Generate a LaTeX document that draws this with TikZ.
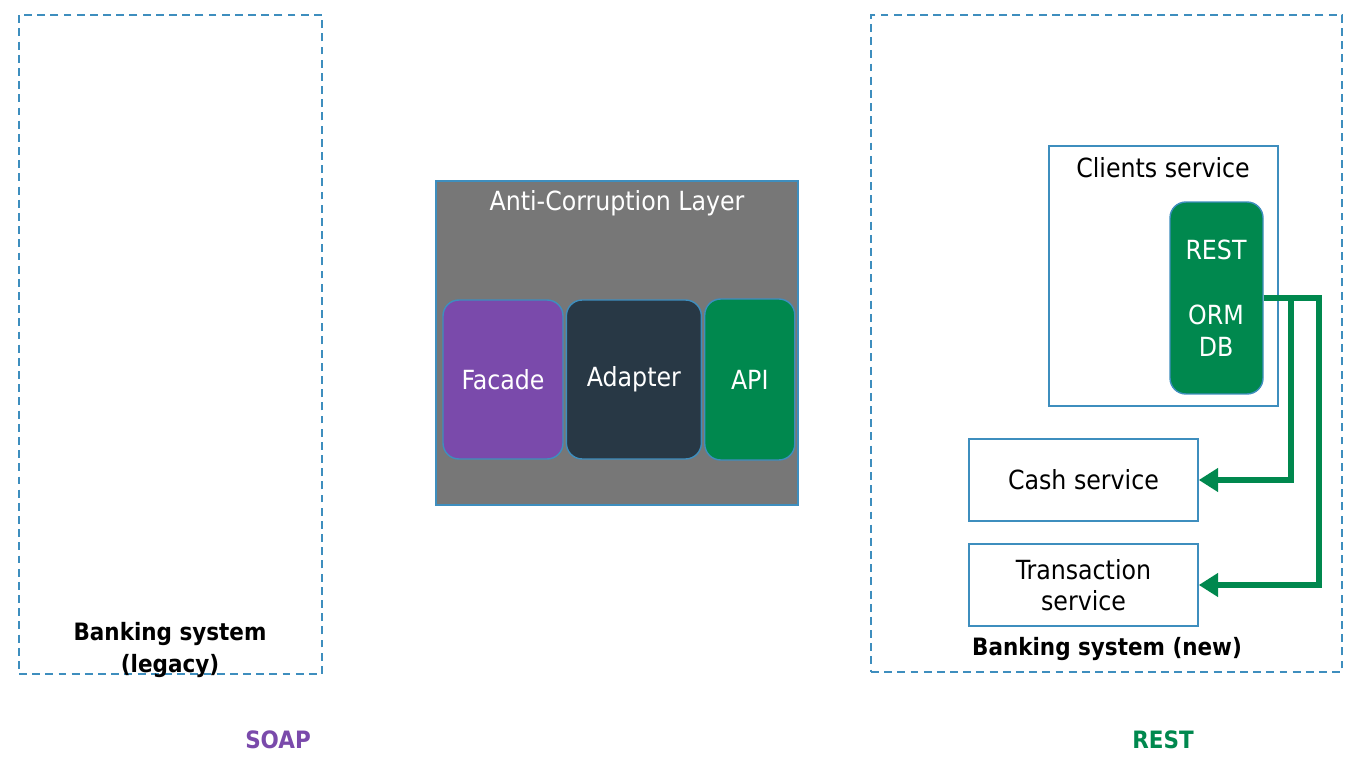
\documentclass[tikz,border=0pt]{standalone}
\usepackage{fontspec}
\setmainfont{DejaVu Sans Condensed}
\usetikzlibrary{arrows.meta, positioning}

\definecolor{edgeblue}{RGB}{62,142,190}
\definecolor{aclgray}{RGB}{119,119,119}
\definecolor{facadepurple}{RGB}{122,74,171}
\definecolor{adapterslate}{RGB}{40,56,69}
\definecolor{apigreen}{RGB}{0,136,78}

\begin{document}
\begin{tikzpicture}[x=0.02cm, y=-0.02cm, font=\fontsize{15}{18}\selectfont,
    system/.style={rectangle, draw=edgeblue, dash pattern=on 4.5pt off 3pt, line width=0.9pt},
    service/.style={rectangle, draw=edgeblue, fill=white, line width=0.9pt, align=center, minimum width=4.58cm},
    part/.style={rectangle, rounded corners=9pt, draw=edgeblue, line width=0.8pt, text=white, align=center, minimum height=3.18cm},
    heading/.style={font=\fontsize{13.6}{18}\selectfont\bfseries, align=center},
    flow/.style={draw=apigreen, line width=3.2pt, -{Triangle[length=11pt,width=13pt]}}
]
    \useasboundingbox (0,0) rectangle (1352,766);

    % Place nodes
    \node [system, minimum width=6.06cm, minimum height=13.18cm] (legacy) at (170.5,344.5) {};
    \node [system, minimum width=9.42cm, minimum height=13.14cm] (new) at (1106.5,343.5) {};
    \node [heading] (legacytitle) at (170,650) {Banking system\\(legacy)};
    \node [heading] (newtitle) at (1107,649) {Banking system (new)};

    \node [rectangle, draw=edgeblue, fill=aclgray, line width=0.9pt, minimum width=7.24cm, minimum height=6.48cm] (acl) at (617,343) {};
    \node [text=white] (acltitle) at (617,203) {Anti-Corruption Layer};
    \node [part, fill=facadepurple, minimum width=2.4cm] (facade) at (503,379.5) {Facade};
    \node [part, fill=adapterslate, minimum width=2.7cm, right=0.04cm of facade] (adapter) {Adapter};
    \node [part, fill=apigreen, minimum width=1.8cm, minimum height=3.22cm, right=0.04cm of adapter] (api) {API};

    \node [service, minimum height=5.2cm] (clients) at (1163.5,276) {};
    \node (clientstitle) at (1163,168) {Clients service};
    \node [part, fill=apigreen, minimum width=1.86cm, minimum height=3.84cm] (orm) at (1216.5,298) {};
    \node [text=white] (resttext) at (1216,250) {REST};
    \node [text=white, align=center] (ormtext) at (1216,331) {ORM\\DB};
    \node [service, minimum height=1.64cm] (cash) at (1083.5,480) {Cash service};
    \node [service, minimum height=1.64cm] (transaction) at (1083.5,585) {Transaction\\service};

    \node [heading, text=facadepurple] (soap) at (278,740) {SOAP};
    \node [heading, text=apigreen] (rest) at (1163,740) {REST};

    % Draw edges
    \draw [flow] (orm.east) -- ++(27,0) |- (cash.east);
    \draw [flow] (orm.east) -- ++(55,0) |- (transaction.east);
\end{tikzpicture}
\end{document}
